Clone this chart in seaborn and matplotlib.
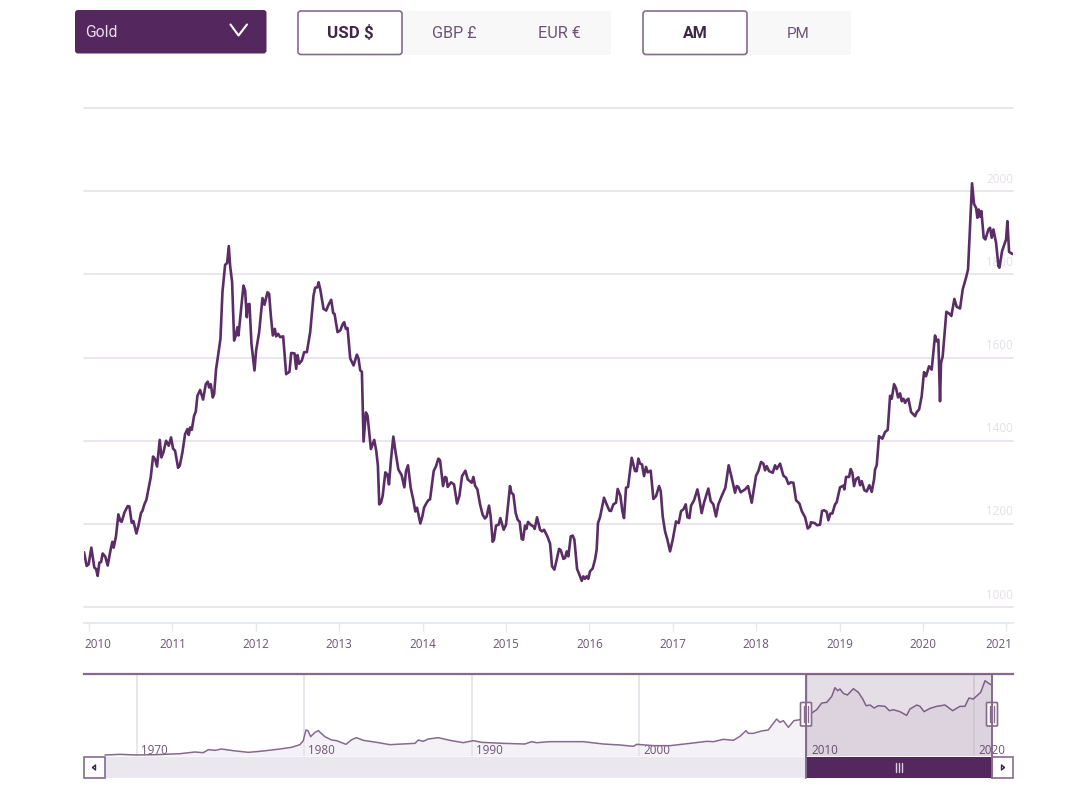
import matplotlib
matplotlib.use('Agg')
import matplotlib.pyplot as plt
from matplotlib.patches import FancyBboxPatch, Rectangle
from matplotlib.transforms import ScaledTranslation
import seaborn as sb

# main chart: gold price, USD, decimal years
years_a = [2009.940, 2009.972, 2009.996, 2010.028, 2010.064, 2010.084, 2010.104, 2010.124, 2010.144, 2010.164,
           2010.196, 2010.224, 2010.260, 2010.280, 2010.296, 2010.324, 2010.352, 2010.376, 2010.392, 2010.424,
           2010.464, 2010.484, 2010.512, 2010.532, 2010.568, 2010.592, 2010.624, 2010.640, 2010.664, 2010.688,
           2010.712, 2010.740, 2010.768, 2010.792, 2010.816, 2010.848, 2010.868, 2010.892, 2010.924, 2010.956,
           2010.984, 2011.008, 2011.032, 2011.068, 2011.088, 2011.120, 2011.152, 2011.180, 2011.196, 2011.212,
           2011.232, 2011.260, 2011.280, 2011.300, 2011.332, 2011.368, 2011.400, 2011.424, 2011.440, 2011.460,
           2011.484, 2011.500, 2011.524, 2011.548, 2011.576, 2011.600, 2011.632, 2011.656, 2011.676, 2011.692,
           2011.716, 2011.740, 2011.760, 2011.780, 2011.792, 2011.852, 2011.872, 2011.892, 2011.904, 2011.924,
           2011.948, 2011.984, 2012.004, 2012.040, 2012.080, 2012.104, 2012.140, 2012.160, 2012.180, 2012.204,
           2012.228, 2012.244, 2012.268, 2012.292, 2012.328, 2012.364, 2012.404, 2012.424, 2012.464, 2012.484,
           2012.500, 2012.520, 2012.552, 2012.580, 2012.612, 2012.652, 2012.692, 2012.712, 2012.740, 2012.752,
           2012.772, 2012.812, 2012.844, 2012.872, 2012.904, 2012.928, 2012.944, 2012.980, 2013.012, 2013.044,
           2013.060, 2013.080, 2013.100, 2013.132, 2013.172, 2013.212, 2013.232, 2013.252, 2013.272, 2013.292,
           2013.320, 2013.340, 2013.380, 2013.420, 2013.444, 2013.464, 2013.480]
price_a = [1132, 1099, 1103, 1143, 1095, 1092, 1075, 1107, 1108, 1129,
           1121, 1100, 1139, 1157, 1143, 1171, 1223, 1207, 1205, 1227,
           1243, 1242, 1203, 1207, 1177, 1195, 1227, 1231, 1247, 1258,
           1283, 1312, 1362, 1356, 1338, 1402, 1360, 1372, 1400, 1388,
           1408, 1381, 1376, 1335, 1340, 1372, 1416, 1428, 1414, 1432,
           1426, 1460, 1470, 1508, 1522, 1499, 1536, 1542, 1528, 1536,
           1504, 1512, 1573, 1605, 1645, 1757, 1823, 1827, 1868, 1821,
           1781, 1641, 1653, 1673, 1653, 1773, 1761, 1697, 1727, 1729,
           1633, 1569, 1617, 1661, 1743, 1727, 1757, 1753, 1701, 1653,
           1669, 1651, 1657, 1649, 1651, 1560, 1566, 1611, 1610, 1573,
           1606, 1585, 1593, 1613, 1613, 1661, 1749, 1768, 1769, 1781,
           1765, 1717, 1713, 1727, 1739, 1707, 1705, 1661, 1665, 1681,
           1685, 1669, 1671, 1598, 1581, 1607, 1597, 1569, 1566, 1398,
           1468, 1460, 1380, 1402, 1376, 1340, 1247]

years_b = [2013.501, 2013.521, 2013.553, 2013.577, 2013.597, 2013.621, 2013.649, 2013.677, 2013.709, 2013.749,
           2013.781, 2013.801, 2013.825, 2013.857, 2013.889, 2013.913, 2013.933, 2013.973, 2013.997, 2014.017,
           2014.049, 2014.069, 2014.089, 2014.133, 2014.161, 2014.189, 2014.209, 2014.245, 2014.269, 2014.285,
           2014.301, 2014.341, 2014.377, 2014.413, 2014.441, 2014.473, 2014.513, 2014.541, 2014.589, 2014.609,
           2014.629, 2014.657, 2014.689, 2014.720, 2014.748, 2014.768, 2014.796, 2014.816, 2014.840, 2014.856,
           2014.880, 2014.912, 2014.932, 2014.972, 2015.000, 2015.048, 2015.064, 2015.088, 2015.116, 2015.140,
           2015.164, 2015.188, 2015.204, 2015.228, 2015.244, 2015.264, 2015.296, 2015.328, 2015.344, 2015.372,
           2015.408, 2015.432, 2015.456, 2015.496, 2015.528, 2015.552, 2015.580, 2015.608, 2015.636, 2015.656,
           2015.688, 2015.708, 2015.728, 2015.748, 2015.776, 2015.800, 2015.820, 2015.852, 2015.880, 2015.908,
           2015.927, 2015.947, 2015.967, 2015.987, 2016.007, 2016.039, 2016.067, 2016.087, 2016.103, 2016.127,
           2016.175, 2016.207, 2016.239, 2016.259, 2016.287, 2016.319, 2016.339, 2016.371, 2016.395, 2016.415,
           2016.439, 2016.463, 2016.507, 2016.547, 2016.567, 2016.587]
price_b = [1251, 1267, 1324, 1319, 1295, 1355, 1410, 1371, 1331, 1317,
           1288, 1327, 1341, 1287, 1257, 1230, 1239, 1201, 1218, 1239,
           1251, 1257, 1259, 1327, 1339, 1357, 1353, 1291, 1313, 1311,
           1289, 1300, 1295, 1249, 1267, 1315, 1328, 1307, 1299, 1313,
           1292, 1283, 1247, 1222, 1213, 1218, 1244, 1218, 1157, 1162,
           1196, 1198, 1214, 1186, 1198, 1291, 1275, 1271, 1226, 1210,
           1205, 1164, 1162, 1196, 1188, 1205, 1198, 1194, 1188, 1216,
           1186, 1182, 1186, 1170, 1153, 1098, 1090, 1114, 1140, 1137,
           1116, 1118, 1134, 1122, 1170, 1172, 1162, 1092, 1078, 1063,
           1074, 1068, 1074, 1068, 1086, 1093, 1114, 1138, 1202, 1216,
           1263, 1247, 1232, 1231, 1247, 1251, 1284, 1268, 1231, 1214,
           1287, 1289, 1359, 1327, 1327, 1357]

years_c = [2016.607, 2016.631, 2016.655, 2016.679, 2016.699, 2016.735, 2016.767, 2016.799, 2016.835, 2016.855,
           2016.879, 2016.907, 2016.935, 2016.967, 2016.999, 2017.039, 2017.071, 2017.099, 2017.127, 2017.155,
           2017.175, 2017.199, 2017.219, 2017.255, 2017.295, 2017.319, 2017.346, 2017.374, 2017.426, 2017.454,
           2017.486, 2017.518, 2017.546, 2017.586, 2017.630, 2017.670, 2017.706, 2017.746, 2017.766, 2017.786,
           2017.814, 2017.866, 2017.902, 2017.946, 2017.998, 2018.026, 2018.058, 2018.086, 2018.106, 2018.126,
           2018.154, 2018.198, 2018.226, 2018.246, 2018.286, 2018.326, 2018.358, 2018.386, 2018.414, 2018.446,
           2018.478, 2018.518, 2018.546, 2018.586, 2018.618, 2018.645, 2018.657, 2018.701, 2018.729, 2018.765,
           2018.789, 2018.813, 2018.845, 2018.865, 2018.889, 2018.913, 2018.945, 2018.965, 2019.005, 2019.045,
           2019.057, 2019.077, 2019.113, 2019.133, 2019.153, 2019.173, 2019.197, 2019.225, 2019.245, 2019.265,
           2019.297, 2019.325, 2019.357, 2019.385, 2019.413, 2019.425, 2019.445, 2019.473, 2019.513, 2019.545,
           2019.577, 2019.605, 2019.625, 2019.653, 2019.677, 2019.701, 2019.725, 2019.745, 2019.765, 2019.785,
           2019.805, 2019.825, 2019.857, 2019.885, 2019.905, 2019.925, 2019.953]
price_c = [1345, 1343, 1315, 1337, 1324, 1328, 1260, 1267, 1291, 1279,
           1218, 1182, 1162, 1134, 1162, 1206, 1202, 1231, 1235, 1247,
           1216, 1214, 1244, 1257, 1283, 1259, 1226, 1251, 1285, 1255,
           1247, 1218, 1247, 1267, 1287, 1341, 1311, 1275, 1291, 1289,
           1276, 1283, 1291, 1251, 1316, 1327, 1349, 1345, 1329, 1339,
           1327, 1323, 1341, 1332, 1345, 1316, 1311, 1296, 1300, 1299,
           1257, 1249, 1231, 1216, 1189, 1194, 1204, 1202, 1197, 1198,
           1231, 1233, 1229, 1209, 1225, 1225, 1247, 1252, 1288, 1292,
           1283, 1313, 1313, 1332, 1323, 1291, 1308, 1312, 1293, 1303,
           1281, 1278, 1293, 1277, 1307, 1331, 1341, 1411, 1405, 1421,
           1426, 1508, 1501, 1536, 1526, 1504, 1514, 1495, 1501, 1491,
           1498, 1501, 1469, 1463, 1459, 1469, 1475]

years_d = [2019.984, 2020.012, 2020.036, 2020.072, 2020.104, 2020.144, 2020.164, 2020.184, 2020.204, 2020.216,
           2020.236, 2020.280, 2020.312, 2020.340, 2020.376, 2020.404, 2020.444, 2020.476, 2020.516, 2020.540,
           2020.588, 2020.612, 2020.636, 2020.652, 2020.668, 2020.684, 2020.700, 2020.728, 2020.748, 2020.784,
           2020.804, 2020.824, 2020.844, 2020.876, 2020.904, 2020.916, 2020.948, 2020.996, 2021.012, 2021.032,
           2021.072]
price_d = [1507, 1565, 1555, 1579, 1571, 1653, 1639, 1643, 1495, 1587,
           1603, 1710, 1706, 1700, 1741, 1722, 1718, 1764, 1792, 1812,
           2019, 1969, 1960, 1936, 1956, 1939, 1952, 1888, 1884, 1908,
           1912, 1888, 1908, 1876, 1820, 1816, 1856, 1884, 1928, 1854,
           1849]

years = years_a + years_b + years_c + years_d
price = price_a + price_b + price_c + price_d

# navigator series, whole history
nav_years = [1968.09, 1968.99, 1969.98, 1971.17, 1972.57, 1973.46, 1973.96, 1974.26, 1974.66, 1975.05,
             1975.75, 1976.65, 1977.54, 1978.54, 1979.23, 1979.73, 1979.93, 1980.09, 1980.21, 1980.37,
             1980.63, 1980.83, 1981.22, 1981.62, 1981.92, 1982.48, 1982.82, 1983.11, 1983.51, 1984.31,
             1985.10, 1986.60, 1986.80, 1987.09, 1987.39, 1987.99, 1988.68, 1989.48, 1990.08, 1990.58,
             1991.87, 1993.16, 1993.56, 1993.86, 1994.66, 1995.85, 1996.65, 1997.85, 1998.84, 1999.64,
             1999.84, 2000.83, 2001.83, 2003.02, 2004.02, 2004.42, 2005.01, 2005.61, 2006.00, 2006.36,
             2006.50, 2006.80, 2007.29, 2007.69, 2008.19, 2008.39, 2008.59, 2008.89, 2009.22, 2009.58,
             2009.92, 2010.28, 2010.58, 2010.88, 2011.18, 2011.48, 2011.67, 2011.83, 2011.97, 2012.17,
             2012.41, 2012.77, 2013.07, 2013.33, 2013.53, 2013.77, 2014.01, 2014.26, 2014.66, 2014.92,
             2015.16, 2015.55, 2015.95, 2016.15, 2016.55, 2016.75, 2016.99, 2017.35, 2017.75, 2018.24,
             2018.70, 2019.13, 2019.43, 2019.67, 2019.93, 2020.37, 2020.63, 2020.82, 2021.02]
nav_price = [27, 45, 27, 36, 62, 107, 89, 170, 152, 188,
             143, 98, 134, 188, 232, 304, 411, 697, 679, 518,
             634, 679, 518, 429, 411, 313, 438, 491, 420, 366,
             304, 339, 429, 393, 455, 491, 420, 357, 411, 366,
             339, 321, 384, 357, 384, 384, 384, 321, 295, 259,
             313, 277, 277, 339, 393, 384, 447, 420, 527, 679,
             607, 607, 670, 697, 991, 902, 947, 768, 947, 973,
             1125, 1152, 1241, 1420, 1438, 1598, 1831, 1750, 1795, 1679,
             1634, 1804, 1706, 1527, 1348, 1366, 1286, 1348, 1331, 1214,
             1241, 1188, 1089, 1259, 1366, 1331, 1188, 1277, 1331, 1366,
             1214, 1331, 1331, 1554, 1527, 1706, 2018, 1956, 1902]

year_ticks = [2010, 2011, 2012, 2013, 2014, 2015, 2016, 2017, 2018, 2019, 2020, 2021]
price_ticks = [1000, 1200, 1400, 1600, 1800, 2000]
grid_lines = [1000, 1200, 1400, 1600, 1800, 2000, 2200]
nav_ticks = [1970, 1980, 1990, 2000, 2010, 2020]

purple = '#54275e'
line_purple = '#866a8e'
text_purple = '#6d5375'
grid_col = '#e9e3ec'

sb.set_theme(style='white')
plt.rcParams['font.family'] = ['Open Sans', 'DejaVu Sans']

W, H = 1080, 812
fig = plt.figure(figsize=(W / 100, H / 100), dpi=100, facecolor='white')

# main chart
ax = fig.add_axes([84 / W, 1 - 623.5 / H, 929 / W, 514.5 / H])
ax.set_xlim(2009.94, 2021.079)
ax.set_ylim(963, 2200)
for v in grid_lines:
    ax.axhline(v, color=grid_col, lw=1.3, zorder=1, clip_on=False)
for v in price_ticks:
    ax.annotate(str(v), xy=(1, v), xycoords=ax.get_yaxis_transform(), xytext=(0, 13),
                textcoords='offset pixels', ha='right', va='center', fontsize=8.4,
                color='#e6dfe8', zorder=1.5)
sb.lineplot(x=years, y=price, ax=ax, color='#5a2d66', linewidth=1.9, estimator=None, sort=False, zorder=3)
ax.set_xlabel('')
ax.set_ylabel('')
ax.set_yticks([])
ax.set_xticks(year_ticks)
ax.set_xticklabels([str(y) for y in year_ticks], fontsize=8.4, color=text_purple)
ax.tick_params(axis='x', length=6, width=1, color='#e3e8f3', pad=4.5, bottom=True)
for s in ['top', 'left', 'right']:
    ax.spines[s].set_visible(False)
ax.spines['bottom'].set_color('#e3e8f3')
ax.spines['bottom'].set_linewidth(1.3)
xlabels = ax.get_xticklabels()
xlabels[0].set_ha('left')
xlabels[0].set_transform(xlabels[0].get_transform() + ScaledTranslation(-5 / 100, 0, fig.dpi_scale_trans))
xlabels[-1].set_ha('right')
xlabels[-1].set_transform(xlabels[-1].get_transform() + ScaledTranslation(6 / 100, 0, fig.dpi_scale_trans))

# navigator
nav = fig.add_axes([84 / W, 1 - 757 / H, 929 / W, 82.5 / H])
nav.set_xlim(1966.84, 2022.30)
nav.set_ylim(0, 2211)
nav.fill_between(nav_years, nav_price, 0, color='#f4f2f6', lw=0, zorder=1)
for y in nav_ticks:
    nav.axvline(y, color='#e8e3eb', lw=1.3, zorder=1.2)
    nav.annotate(str(y), xy=(y, 0), xycoords=nav.get_xaxis_transform(), xytext=(4, 6),
                 textcoords='offset pixels', ha='left', va='center', fontsize=8.4,
                 color=text_purple, zorder=1.4)
sb.lineplot(x=nav_years, y=nav_price, ax=nav, color=line_purple, linewidth=1.1, estimator=None, sort=False, zorder=2)
nav.axvspan(2009.94, 2021.04, color=purple, alpha=0.15, lw=0, zorder=3)
nav.set_xlabel('')
nav.set_ylabel('')
nav.set_xticks([])
nav.set_yticks([])
for s in ['bottom', 'left', 'right']:
    nav.spines[s].set_visible(False)
nav.spines['top'].set_color(line_purple)
nav.spines['top'].set_linewidth(1.6)

# page controls and scrollbar, laid out in pixels
ui = fig.add_axes([0, 0, 1, 1], facecolor='none')
ui.set_xlim(0, W)
ui.set_ylim(H, 0)
ui.axis('off')


def box(x0, y0, x1, y1, face, edge='none', lw=1.0, rad=3):
    ui.add_patch(FancyBboxPatch((x0, y0), x1 - x0, y1 - y0, boxstyle='round,pad=0,rounding_size=%s' % rad,
                                facecolor=face, edgecolor=edge, linewidth=lw))


box(75, 11, 266.5, 54.5, purple)
ui.text(85, 32.5, 'Gold', color='#e6dfe8', fontsize=11.3, family='Roboto', va='center')
ui.plot([230.5, 238.5, 247], [25.5, 36.5, 25.5], color='white', lw=1.5)

ui.add_patch(Rectangle((400, 11.5), 211, 44, facecolor='#f8f8f8', edgecolor='none'))
box(298, 12, 402, 55.5, 'white', line_purple, 1.2)
ui.text(350, 33.5, 'USD $', color='#40264a', fontsize=12.2, family='Roboto', weight='bold', ha='center', va='center')
ui.text(454.5, 33.5, 'GBP £', color=text_purple, fontsize=11.6, family='Roboto', ha='center', va='center')
ui.text(559, 33.5, 'EUR €', color=text_purple, fontsize=11.7, family='Roboto', ha='center', va='center')

ui.add_patch(Rectangle((745, 11.5), 106, 44, facecolor='#f8f8f8', edgecolor='none'))
box(643, 12, 747, 55.5, 'white', line_purple, 1.2)
ui.text(695, 33.5, 'AM', color='#40264a', fontsize=11.5, family='Roboto', weight='bold', ha='center', va='center')
ui.text(798.5, 33.5, 'PM', color=text_purple, fontsize=11, family='Roboto', ha='center', va='center')

# scrollbar
ui.add_patch(Rectangle((84, 757.5), 929, 21.5, facecolor='#ebe7ee', edgecolor='none'))
ui.add_patch(Rectangle((806, 757.5), 186, 21.5, facecolor=purple, edgecolor='none'))
ui.add_patch(Rectangle((84, 758), 21, 21, facecolor='white', edgecolor=line_purple, linewidth=1.2))
ui.add_patch(Rectangle((992, 758), 21, 21, facecolor='white', edgecolor=line_purple, linewidth=1.2))
ui.plot([92.5, 95.5, 95.5, 92.5], [768.5, 766, 771, 768.5], color='#40264a', lw=1)
ui.plot([1004.5, 1001.5, 1001.5, 1004.5], [768.5, 766, 771, 768.5], color='#40264a', lw=1)
for x in [896, 899, 902]:
    ui.plot([x, x], [764, 773], color='#d9cfdc', lw=1)

# selection edges and handles
for x in [806, 992]:
    ui.plot([x, x], [675, 779], color=line_purple, lw=1.4)
    box(x - 5.5, 703.5, x + 5.5, 727, 'white', line_purple, 1.2, rad=1)
    ui.plot([x - 2, x - 2], [707, 723], color=line_purple, lw=1)
    ui.plot([x + 2, x + 2], [707, 723], color=line_purple, lw=1)

fig.savefig('out.png', dpi=100)
